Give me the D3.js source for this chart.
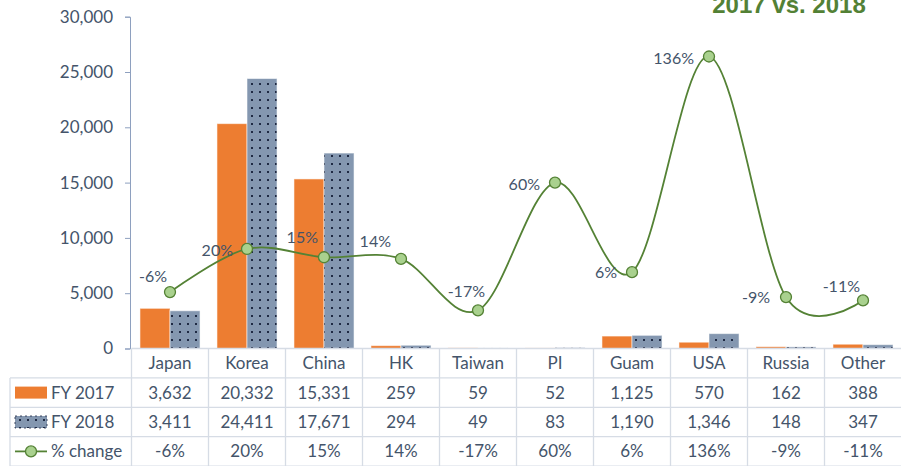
<!DOCTYPE html>
<html>
<head>
<meta charset="utf-8">
<script src="https://cdn.jsdelivr.net/npm/d3@7"></script>
<style>
  body { margin: 0; background: #fff; }
  svg { display: block; font-family: Lato, "Open Sans", sans-serif; }
</style>
</head>
<body>
<svg id="chart" width="901" height="466"></svg>
<script>
const categories = ["Japan", "Korea", "China", "HK", "Taiwan", "PI", "Guam", "USA", "Russia", "Other"];
const fy2017 = [3632, 20332, 15331, 259, 59, 52, 1125, 570, 162, 388];
const fy2018 = [3411, 24411, 17671, 294, 49, 83, 1190, 1346, 148, 347];
const pctChange = [-6, 20, 15, 14, -17, 60, 6, 136, -9, -11];
const yTicks = [0, 5000, 10000, 15000, 20000, 25000, 30000];
// hand-placed % labels: [dx of text end, dy of baseline] from the marker
const labelNudge = [[-3, -10], [-14, 7], [-6, -14], [-10, -12], [7, -13],
  [-15, 7], [-15, 6], [-15, 7], [-16, 6], [-3, -8]];

const svg = d3.select("#chart");
const plotL = 131.5, plotR = 901.5, plotT = 16.7, plotB = 348.5;
const txt = "#44546A", grid = "#D6DCE5";

const x = d3.scaleBand().domain(categories).range([plotL, plotR]).padding(0);
const bw = x.bandwidth();
const x1 = d3.scaleBand().domain(["FY 2017", "FY 2018"]).range([bw * 0.11, bw * 0.89]);
const y = d3.scaleLinear().domain([0, 30000]).range([plotB, plotT]);
const y2 = d3.scaleLinear().domain([-40, 160]).range([plotB, plotT]);

// dotted fill for FY 2018
const defs = svg.append("defs");
const pat = defs.append("pattern").attr("id", "dots")
  .attr("patternUnits", "userSpaceOnUse").attr("width", 8).attr("height", 8);
pat.append("rect").attr("width", 8).attr("height", 8).attr("fill", "#8497B0");
pat.append("rect").attr("x", 3).attr("y", 3).attr("width", 2).attr("height", 2).attr("fill", "#1F2A44");

// title (cut off at the top in the original)
svg.append("text").attr("x", 789).attr("y", 12.5).attr("text-anchor", "middle")
  .attr("font-family", "'Liberation Sans', Arial, sans-serif").attr("font-weight", "bold")
  .attr("font-size", 24).attr("fill", "#538135").text("2017 vs. 2018");

// y axis
const yAxis = svg.append("g").attr("transform", `translate(${plotL - 1.5},0)`)
  .call(d3.axisLeft(y).tickValues(yTicks).tickSize(5).tickPadding(12).tickFormat(d3.format(",")));
yAxis.select(".domain").attr("stroke", "#8EA0BF");
yAxis.selectAll(".tick line").attr("stroke", "#8EA0BF");
yAxis.selectAll(".tick text").attr("fill", txt).attr("font-size", 17)
  .attr("font-family", "Lato, sans-serif");

// bars
const series = [
  { key: "FY 2017", vals: fy2017, fill: "#ED7D31" },
  { key: "FY 2018", vals: fy2018, fill: "url(#dots)" },
];
series.forEach((s) => {
  svg.append("g").selectAll("rect").data(categories).join("rect")
    .attr("x", (c) => x(c) + x1(s.key))
    .attr("width", x1.bandwidth())
    .attr("y", (c, i) => y(s.vals[i]))
    .attr("height", (c, i) => y(0) - y(s.vals[i]))
    .attr("fill", s.fill)
    .attr("stroke", "#ffffff").attr("stroke-opacity", 0.55).attr("stroke-width", 1);
});

// % change line
const pts = categories.map((c, i) => [x(c) + bw / 2, y2(pctChange[i])]);
svg.append("path").attr("d", d3.line().curve(d3.curveCatmullRom.alpha(0))(pts))
  .attr("fill", "none").attr("stroke", "#548235").attr("stroke-width", 1.8);
svg.append("g").selectAll("circle").data(pts).join("circle")
  .attr("cx", (d) => d[0]).attr("cy", (d) => d[1]).attr("r", 5.5)
  .attr("fill", "#A9D18E").attr("stroke", "#548235").attr("stroke-width", 1.3);
svg.append("g").selectAll("text").data(pts).join("text")
  .attr("x", (d, i) => d[0] + labelNudge[i][0])
  .attr("y", (d, i) => d[1] + labelNudge[i][1])
  .attr("text-anchor", "end").attr("font-size", 16).attr("fill", txt)
  .text((d, i) => pctChange[i] + "%");

// data table
const rowH = 29.4;
const tbl = svg.append("g");
const rows = [plotB, plotB + rowH, plotB + 2 * rowH, plotB + 3 * rowH, plotB + 4 * rowH];
rows.forEach((ry, i) => {
  tbl.append("line").attr("x1", i === 0 ? plotL : 10).attr("x2", plotR)
    .attr("y1", ry).attr("y2", ry).attr("stroke", grid).attr("stroke-width", 1.3);
});
tbl.append("line").attr("x1", 10).attr("x2", 10).attr("y1", rows[1]).attr("y2", 466)
  .attr("stroke", grid).attr("stroke-width", 1.3);
categories.forEach((c) => {
  tbl.append("line").attr("x1", x(c)).attr("x2", x(c)).attr("y1", plotB).attr("y2", 466)
    .attr("stroke", grid).attr("stroke-width", 1.3);
});
const rowText = [
  categories,
  fy2017.map(d3.format(",")),
  fy2018.map(d3.format(",")),
  pctChange.map((v) => v + "%"),
];
rowText.forEach((vals, r) => {
  tbl.append("g").selectAll("text").data(vals).join("text")
    .attr("x", (d, i) => x(categories[i]) + bw / 2)
    .attr("y", plotB + rowH * r + rowH / 2 + 6)
    .attr("text-anchor", "middle").attr("font-size", 17).attr("fill", txt)
    .text((d) => d);
});

// legend keys in the table
const keyY = (r) => plotB + rowH * r + rowH / 2;
tbl.append("rect").attr("x", 15).attr("y", keyY(1) - 6).attr("width", 32).attr("height", 12)
  .attr("fill", "#ED7D31");
tbl.append("rect").attr("x", 15).attr("y", keyY(2) - 6).attr("width", 32).attr("height", 12)
  .attr("fill", "url(#dots)").attr("stroke", "#1F2A44").attr("stroke-dasharray", "2,3").attr("stroke-width", 0.8);
tbl.append("line").attr("x1", 15).attr("x2", 47).attr("y1", keyY(3)).attr("y2", keyY(3))
  .attr("stroke", "#548235").attr("stroke-width", 1.8);
tbl.append("circle").attr("cx", 31).attr("cy", keyY(3)).attr("r", 5.5)
  .attr("fill", "#A9D18E").attr("stroke", "#548235").attr("stroke-width", 1.3);
["FY 2017", "FY 2018", "% change"].forEach((t, i) => {
  tbl.append("text").attr("x", 51).attr("y", keyY(i + 1) + 6)
    .attr("font-size", 17).attr("fill", txt).text(t);
});
</script>
</body>
</html>
